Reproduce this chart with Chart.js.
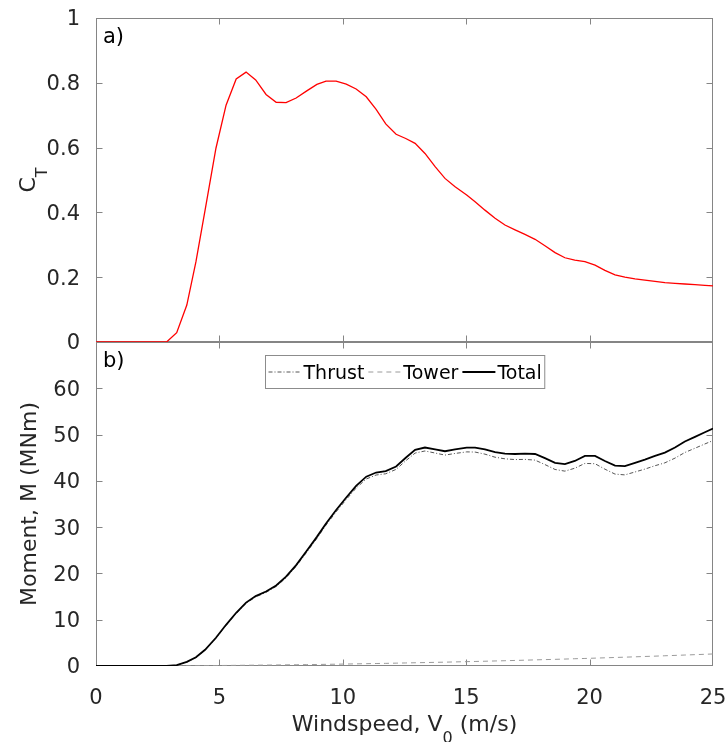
<!DOCTYPE html>
<html>
<head>
<meta charset="utf-8">
<script src="https://cdn.jsdelivr.net/npm/chart.js@4.4.1/dist/chart.umd.min.js"></script>
<style>
  html, body { margin: 0; padding: 0; background: #fff; }
  #wrap { position: relative; width: 728px; height: 742px; }
</style>
</head>
<body>
<div id="wrap"><canvas id="chart"></canvas></div>
<script>
// ---- data ----
// wind speed samples (m/s), shared by both panels
const windSpeed = [0, 2.86, 3.27, 3.68, 4.05, 4.42, 4.86, 5.27, 5.68, 6.08,
  6.47, 6.89, 7.30, 7.70, 8.11, 8.54, 8.95, 9.32, 9.73, 10.14,
  10.54, 10.95, 11.35, 11.74, 12.16, 12.55, 12.93, 13.33, 13.74, 14.14,
  14.55, 15.02, 15.36, 15.76, 16.17, 16.57, 16.98, 17.38, 17.79, 18.19,
  18.60, 19.00, 19.40, 19.81, 20.22, 20.62, 21.03, 21.43, 21.84, 22.24,
  22.65, 23.05, 23.46, 23.86, 24.27, 24.67, 25.0];

// a) thrust coefficient C_T
const thrustCoeff = [0, 0, 0.029, 0.114, 0.248, 0.407, 0.598, 0.731, 0.812, 0.833,
  0.809, 0.764, 0.740, 0.739, 0.753, 0.775, 0.795, 0.805, 0.805, 0.796,
  0.781, 0.757, 0.718, 0.673, 0.641, 0.628, 0.613, 0.582, 0.541, 0.505,
  0.479, 0.454, 0.433, 0.407, 0.382, 0.361, 0.346, 0.332, 0.317, 0.297,
  0.276, 0.260, 0.253, 0.248, 0.237, 0.221, 0.207, 0.200, 0.195, 0.191,
  0.187, 0.183, 0.181, 0.179, 0.177, 0.175, 0.173];

// b) moments (MNm)
const momentThrust = [0, 0, 0.16, 0.84, 1.83, 3.42, 6.0, 8.78, 11.36, 13.54,
  14.92, 15.9, 17.18, 19.05, 21.53, 24.6, 27.57, 30.44, 33.31, 35.97,
  38.44, 40.4, 41.26, 41.53, 42.48, 44.34, 46.0, 46.46, 46.01, 45.57,
  45.92, 46.26, 46.22, 45.77, 45.11, 44.76, 44.6, 44.64, 44.48, 43.52,
  42.46, 42.1, 42.73, 43.77, 43.7, 42.53, 41.46, 41.29, 41.92, 42.54,
  43.27, 43.89, 44.91, 46.13, 47.05, 47.97, 48.7];

const momentTower = [0, 0, 0.04, 0.06, 0.07, 0.08, 0.10, 0.12, 0.14, 0.16,
  0.18, 0.20, 0.22, 0.25, 0.27, 0.30, 0.33, 0.36, 0.39, 0.43,
  0.46, 0.50, 0.54, 0.57, 0.62, 0.66, 0.70, 0.74, 0.79, 0.83,
  0.88, 0.94, 0.98, 1.03, 1.09, 1.14, 1.20, 1.26, 1.32, 1.38,
  1.44, 1.50, 1.57, 1.63, 1.70, 1.77, 1.84, 1.91, 1.98, 2.06,
  2.13, 2.21, 2.29, 2.37, 2.45, 2.53, 2.60];

const momentTotal = [0, 0, 0.2, 0.9, 1.9, 3.5, 6.1, 8.9, 11.5, 13.7,
  15.1, 16.1, 17.4, 19.3, 21.8, 24.9, 27.9, 30.8, 33.7, 36.4,
  38.9, 40.9, 41.8, 42.1, 43.1, 45.0, 46.7, 47.2, 46.8, 46.4,
  46.8, 47.2, 47.2, 46.8, 46.2, 45.9, 45.8, 45.9, 45.8, 44.9,
  43.9, 43.6, 44.3, 45.4, 45.4, 44.3, 43.3, 43.2, 43.9, 44.6,
  45.4, 46.1, 47.2, 48.5, 49.5, 50.5, 51.3];

// tick values
const windTicks = [0, 5, 10, 15, 20, 25];
const ctTicks = [0, 0.2, 0.4, 0.6, 0.8, 1];
const momentTicks = [0, 10, 20, 30, 40, 50, 60];

const legendLabels = ['Thrust', 'Tower', 'Total'];

// ---- styling ----
const FONT = "'DejaVu Sans', sans-serif";
const TEXT = '#262626';
const AXIS = '#858585';
const TICK_LEN = 6;

const toPoints = vals => windSpeed.map((v, i) => ({ x: v, y: vals[i] }));
const setTicks = list => scale => { scale.ticks = list.map(v => ({ value: v })); };

// draw a string made of normal and subscript pieces, centred on cx
function drawSubText(ctx, parts, cx, baseline, size) {
  const subSize = Math.round(size * 0.72);
  let total = 0;
  parts.forEach(p => {
    ctx.font = `${p.sub ? subSize : size}px ${FONT}`;
    p.w = ctx.measureText(p.text).width;
    total += p.w;
  });
  let x = cx - total / 2;
  parts.forEach(p => {
    ctx.font = `${p.sub ? subSize : size}px ${FONT}`;
    ctx.fillText(p.text, x, baseline + (p.sub ? 12 : 0));
    x += p.w;
  });
}

const panelDecor = {
  id: 'panelDecor',
  beforeDatasetsDraw(chart) {
    const { ctx, scales } = chart;
    const xs = scales.x;
    ctx.save();
    ctx.strokeStyle = AXIS;
    ctx.lineWidth = 1;
    ['yCT', 'yM'].forEach(id => {
      const ys = scales[id];
      const l = Math.round(xs.left) + 0.5, r = Math.round(xs.right) - 0.5;
      const t = Math.round(ys.top) + 0.5, b = Math.round(ys.bottom) - 0.5;
      ctx.strokeRect(l, t, r - l, b - t);
      ctx.beginPath();
      xs.ticks.forEach(tk => {
        if (tk.value <= xs.min || tk.value >= xs.max) return;
        const px = Math.round(xs.getPixelForValue(tk.value)) + 0.5;
        ctx.moveTo(px, t); ctx.lineTo(px, t + TICK_LEN);
        ctx.moveTo(px, b); ctx.lineTo(px, b - TICK_LEN);
      });
      ys.ticks.forEach(tk => {
        if (tk.value <= ys.min || tk.value >= ys.max) return;
        const py = Math.round(ys.getPixelForValue(tk.value)) + 0.5;
        ctx.moveTo(l, py); ctx.lineTo(l + TICK_LEN, py);
        ctx.moveTo(r, py); ctx.lineTo(r - TICK_LEN, py);
      });
      ctx.stroke();
    });
    ctx.restore();
  },
  afterDraw(chart) {
    const { ctx, scales } = chart;
    const xs = scales.x, yCT = scales.yCT, yM = scales.yM;
    ctx.save();
    ctx.fillStyle = TEXT;
    ctx.textBaseline = 'alphabetic';
    ctx.textAlign = 'left';

    // axis titles
    drawSubText(ctx, [{ text: 'Windspeed, V' }, { text: '0', sub: true }, { text: ' (m/s)' }],
      (xs.left + xs.right) / 2, 731, 22);

    ctx.save();
    ctx.translate(35, (yCT.top + yCT.bottom) / 2);
    ctx.rotate(-Math.PI / 2);
    drawSubText(ctx, [{ text: 'C' }, { text: 'T', sub: true }], 0, 0, 22);
    ctx.restore();

    ctx.save();
    ctx.translate(36, (yM.top + yM.bottom) / 2);
    ctx.rotate(-Math.PI / 2);
    drawSubText(ctx, [{ text: 'Moment, M (MNm)' }], 0, 0, 22);
    ctx.restore();

    // panel letters
    ctx.fillStyle = '#000';
    ctx.font = `21px ${FONT}`;
    ctx.fillText('a)', xs.left + 7, yCT.top + 25);
    ctx.fillText('b)', xs.left + 7, yM.top + 25);

    // legend box inside panel b
    const sets = chart.data.datasets;
    const byLabel = lbl => sets.find(d => d.label === lbl);
    ctx.font = `19px ${FONT}`;
    const sample = 33, pad = 3, gap = 2, itemGap = 4;
    const widths = legendLabels.map(l => ctx.measureText(l).width);
    let boxW = pad * 2;
    widths.forEach((w, i) => { boxW += sample + gap + w + (i ? itemGap : 0); });
    const boxH = 33;
    const bx = Math.round((xs.left + xs.right) / 2 - boxW / 2) + 0.5;
    const by = Math.round(yM.top + 13) + 0.5;
    ctx.fillStyle = '#fff';
    ctx.fillRect(bx, by, boxW, boxH);
    ctx.strokeStyle = '#8c8c8c';
    ctx.lineWidth = 1;
    ctx.strokeRect(bx, by, boxW, boxH);
    const cy = by + boxH / 2;
    let cx = bx + pad;
    legendLabels.forEach((lbl, i) => {
      const ds = byLabel(lbl);
      if (i) cx += itemGap;
      ctx.save();
      ctx.strokeStyle = ds.borderColor;
      ctx.lineWidth = ds.borderWidth;
      ctx.setLineDash(ds.borderDash || []);
      ctx.beginPath();
      ctx.moveTo(cx, cy); ctx.lineTo(cx + sample, cy);
      ctx.stroke();
      ctx.restore();
      cx += sample + gap;
      ctx.fillStyle = '#000';
      ctx.fillText(lbl, cx, cy + 7);
      cx += widths[i];
    });
    ctx.restore();
  }
};

const tickFont = { family: FONT, size: 21 };

new Chart(document.getElementById('chart'), {
  type: 'line',
  data: {
    datasets: [
      { label: 'CT', data: toPoints(thrustCoeff), yAxisID: 'yCT',
        borderColor: '#ff0000', borderWidth: 1.3 },
      { label: 'Total', data: toPoints(momentTotal), yAxisID: 'yM',
        borderColor: '#000000', borderWidth: 1.8 },
      { label: 'Thrust', data: toPoints(momentThrust), yAxisID: 'yM',
        borderColor: '#555555', borderWidth: 1, borderDash: [4, 2, 1, 2] },
      { label: 'Tower', data: toPoints(momentTower), yAxisID: 'yM',
        borderColor: '#9a9a9a', borderWidth: 1, borderDash: [5, 4] },
    ],
  },
  options: {
    responsive: true,
    maintainAspectRatio: false,
    animation: false,
    events: [],
    elements: { point: { radius: 0 }, line: { tension: 0, fill: false } },
    layout: { padding: { top: 18, right: 15, left: 0, bottom: 0 } },
    plugins: { legend: { display: false }, tooltip: { enabled: false } },
    scales: {
      x: {
        type: 'linear', min: 0, max: 25,
        afterBuildTicks: setTicks(windTicks),
        afterFit: s => { s.height = 76; s.paddingLeft = 0; s.paddingRight = 0; },
        grid: { display: false }, border: { display: false },
        ticks: { font: tickFont, color: TEXT, padding: 12, maxRotation: 0 },
      },
      yM: {
        type: 'linear', position: 'left', stack: 'panels', stackWeight: 1, weight: 0,
        min: 0, max: 70,
        afterBuildTicks: setTicks(momentTicks),
        afterFit: s => { s.width = 96; s.paddingTop = 0; s.paddingBottom = 0; },
        grid: { display: false }, border: { display: false },
        ticks: { font: tickFont, color: TEXT, padding: 8, labelOffset: 2 },
      },
      yCT: {
        type: 'linear', position: 'left', stack: 'panels', stackWeight: 1, weight: 1,
        min: 0, max: 1,
        afterBuildTicks: setTicks(ctTicks),
        afterFit: s => { s.width = 96; s.paddingTop = 0; s.paddingBottom = 0; },
        grid: { display: false }, border: { display: false },
        ticks: { font: tickFont, color: TEXT, padding: 8, labelOffset: 2,
                 callback: v => String(+v.toFixed(1)) },
      },
    },
  },
  plugins: [panelDecor],
});
</script>
</body>
</html>
